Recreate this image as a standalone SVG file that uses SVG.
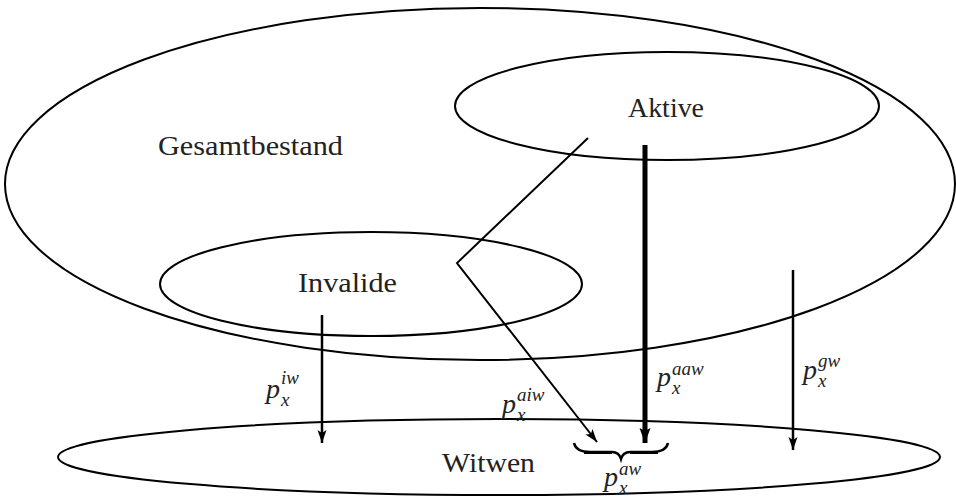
<svg xmlns="http://www.w3.org/2000/svg" width="956" height="497" viewBox="0 0 956 497">
<defs>
<marker id="arr" markerUnits="userSpaceOnUse" markerWidth="14" markerHeight="10" viewBox="0 0 14 10" refX="13" refY="5" orient="auto">
<path d="M0,0.5 L13,5 L0,9.5 L3,5 z" fill="#000"/>
</marker>
<marker id="arrB" markerUnits="userSpaceOnUse" markerWidth="16" markerHeight="12" viewBox="0 0 16 12" refX="15" refY="6" orient="auto">
<path d="M0,0.5 L15,6 L0,11.5 L3,6 z" fill="#000"/>
</marker>
</defs>
<style>
.set{fill:none;stroke:#000;stroke-width:2}
.lbl{font-family:'Liberation Serif',Tinos,'Noto Serif','DejaVu Serif',FreeSerif,Times,serif;font-size:28px;fill:#222}
.m{font-family:'Liberation Serif',Tinos,'Noto Serif','DejaVu Serif',FreeSerif,Times,serif;font-style:italic;fill:#222}
.p{font-size:28px}
.s{font-size:19px}
.ln{fill:none;stroke:#000;stroke-width:2}
</style>
<rect width="956" height="497" fill="#fff"/>
<g id="gesamtbestand">
<ellipse class="set" cx="480" cy="184" rx="475" ry="176"/>
<text class="lbl" x="158" y="155" textLength="185" lengthAdjust="spacingAndGlyphs">Gesamtbestand</text>
</g>
<g id="aktive">
<ellipse class="set" cx="667" cy="106" rx="212" ry="54"/>
<text class="lbl" x="628" y="117" textLength="76" lengthAdjust="spacingAndGlyphs">Aktive</text>
</g>
<g id="invalide">
<ellipse class="set" cx="371" cy="284" rx="211" ry="52"/>
<text class="lbl" x="298" y="292" textLength="99" lengthAdjust="spacingAndGlyphs">Invalide</text>
</g>
<g id="witwen">
<ellipse class="set" cx="499" cy="457" rx="441" ry="38"/>
<text class="lbl" x="442" y="472" textLength="93" lengthAdjust="spacingAndGlyphs">Witwen</text>
</g>
<g id="connectors">
<polyline class="ln" points="588,138 457,263 597,442" marker-end="url(#arr)"/>
<line class="ln" x1="645" y1="145" x2="645" y2="443" style="stroke-width:5" marker-end="url(#arrB)"/>
<line class="ln" x1="322" y1="315" x2="322" y2="443" style="stroke-width:2.5" marker-end="url(#arr)"/>
<line class="ln" x1="793" y1="270" x2="793" y2="450" style="stroke-width:2.5" marker-end="url(#arr)"/>
<path d="M574,443 Q576,452 590,452 L612,452 Q619,452 621,459 Q623,452 630,452 L652,452 Q666,452 668,443" fill="none" stroke="#000" stroke-width="2.5"/>
<path d="M584,451 L612,451 L612,454 L584,454 z M630,451 L658,451 L658,454 L630,454 z" fill="#000"/>
</g>
<g id="labels">
<text class="m" x="266" y="398"><tspan class="p">p</tspan><tspan class="s" x="281" y="384">iw</tspan><tspan class="s" x="281" y="406">x</tspan></text>
<text class="m" x="502" y="413"><tspan class="p">p</tspan><tspan class="s" x="517" y="401">aiw</tspan><tspan class="s" x="517" y="421">x</tspan></text>
<text class="m" x="657" y="386"><tspan class="p">p</tspan><tspan class="s" x="672" y="375">aaw</tspan><tspan class="s" x="672" y="394">x</tspan></text>
<text class="m" x="803" y="379"><tspan class="p">p</tspan><tspan class="s" x="818" y="367">gw</tspan><tspan class="s" x="818" y="387">x</tspan></text>
<text class="m" x="604" y="486"><tspan class="p">p</tspan><tspan class="s" x="619" y="475">aw</tspan><tspan class="s" x="619" y="494">x</tspan></text>
</g>
</svg>
